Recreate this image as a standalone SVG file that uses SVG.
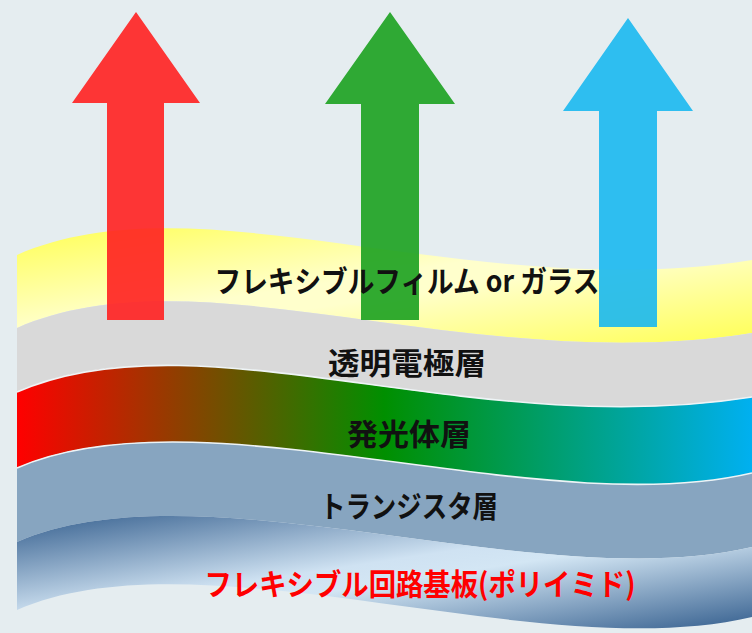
<svg xmlns="http://www.w3.org/2000/svg" width="752" height="633" viewBox="0 0 752 633">
  <defs>
    <linearGradient id="gYellow" x1="0" y1="0" x2="1" y2="1">
      <stop offset="0" stop-color="#ffff55"/>
      <stop offset="0.45" stop-color="#ffffcc"/>
      <stop offset="0.55" stop-color="#ffffcc"/>
      <stop offset="1" stop-color="#ffff55"/>
    </linearGradient>
    <linearGradient id="gEmit" x1="17" y1="0" x2="752" y2="0" gradientUnits="userSpaceOnUse">
      <stop offset="0" stop-color="#ff0000"/>
      <stop offset="0.5" stop-color="#008f00"/>
      <stop offset="1" stop-color="#00b0f0"/>
    </linearGradient>
    <linearGradient id="gSub" x1="0" y1="0" x2="1" y2="1">
      <stop offset="0" stop-color="#36608f"/>
      <stop offset="0.45" stop-color="#cfe2f2"/>
      <stop offset="0.55" stop-color="#d3e6f4"/>
      <stop offset="1" stop-color="#36608f"/>
    </linearGradient>
    <style>
      .lbl { font-family: "Noto Sans CJK JP", "Noto Sans", sans-serif; font-weight: bold; font-size: 30px; text-anchor: middle; dominant-baseline: central; fill: #111111; }
      .red { fill: #ff0000; }
      .arrow { opacity: 0.9; }
      .edge { fill: none; stroke: #eef4f6; stroke-width: 1.6; }
    </style>
  </defs>
  <rect width="752" height="633" fill="#e5edf0"/>

  <g id="layer-film">
    <path d="M17,255 C200,175 470,305 752,260 L752,333 C470,378 200,248 17,328 Z" fill="url(#gYellow)"/>
  </g>
  <g id="layer-electrode">
    <path d="M17,328 C200,248 470,378 752,333 L752,397 C470,442 200,312 17,392 Z" fill="#d9d9d9"/>
  </g>
  <g id="layer-emitter">
    <path d="M17,392 C200,312 470,442 752,397 L752,473 C540,523 200,388 17,468 Z" fill="url(#gEmit)"/>
  </g>
  <g id="layer-transistor">
    <path d="M17,468 C200,388 540,523 752,473 L752,547 C540,597 200,462 17,542 Z" fill="#87a5c0"/>
  </g>
  <g id="layer-substrate">
    <path d="M17,542 C200,462 540,597 752,547 L752,617 C540,667 200,530 17,610 Z" fill="url(#gSub)"/>
  </g>
  <g id="edges">
    <path class="edge" d="M17,392 C200,312 470,442 752,397"/>
    <path class="edge" d="M17,468 C200,388 540,523 752,473"/>
  </g>

  <g id="arrows">
    <polygon id="arrow-red" class="arrow" fill="#ff2020" points="136,12 200,103 164,103 164,320 107,320 107,103 72,103"/>
    <polygon id="arrow-green" class="arrow" fill="#1ba11f" points="390,12 455,104 419,104 419,320 361,320 361,104 325,104"/>
    <polygon id="arrow-blue" class="arrow" fill="#1ab8f0" points="628,18 693,111 657,111 657,327 599,327 599,111 563,111"/>
  </g>

  <g id="labels">
    <text class="lbl" x="407" y="279" textLength="385" lengthAdjust="spacingAndGlyphs">フレキシブルフィルム or ガラス</text>
    <text class="lbl" x="407" y="361" textLength="158" lengthAdjust="spacingAndGlyphs">透明電極層</text>
    <text class="lbl" x="409" y="432" textLength="124" lengthAdjust="spacingAndGlyphs">発光体層</text>
    <text class="lbl" x="409" y="504" textLength="178" lengthAdjust="spacingAndGlyphs">トランジスタ層</text>
    <text class="lbl red" x="420" y="582" textLength="431" lengthAdjust="spacingAndGlyphs">フレキシブル回路基板(ポリイミド)</text>
  </g>
</svg>
